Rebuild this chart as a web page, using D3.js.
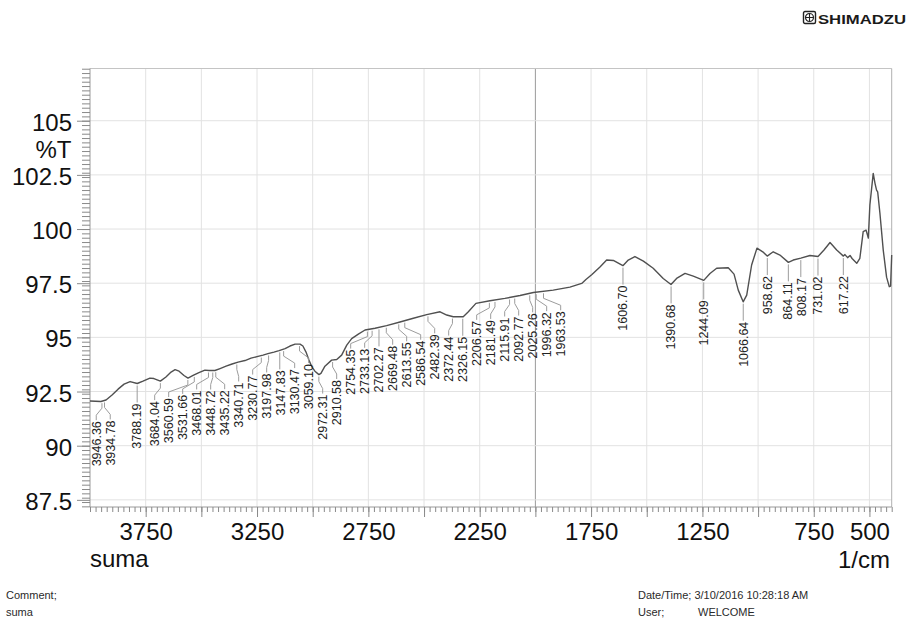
<!DOCTYPE html>
<html>
<head>
<meta charset="utf-8">
<script src="https://cdn.jsdelivr.net/npm/d3@7"></script>
<style>
  html, body { margin: 0; padding: 0; background: #fff; }
  svg { display: block; font-family: "Liberation Sans", Arial, sans-serif; }
</style>
</head>
<body>
<svg id="chart" width="912" height="621"></svg>
<script>
// FTIR spectrum of sample "suma": wavenumber (1/cm) and transmittance (%T)
const wavenumbers = [
  4000, 3951, 3928, 3901, 3874, 3847, 3820, 3788, 3762, 3731,
  3713, 3684, 3659, 3636, 3618, 3600, 3578, 3560, 3537, 3511,
  3484, 3466, 3439, 3416, 3389, 3362, 3335, 3304, 3277, 3250,
  3223, 3201, 3174, 3151, 3124, 3102, 3079, 3057, 3044, 3030,
  3017, 3003, 2990, 2972, 2963, 2945, 2915, 2892, 2870, 2847,
  2825, 2795, 2765, 2720, 2668, 2608, 2548, 2488, 2428, 2398,
  2369, 2324, 2301, 2267, 2204, 2137, 2069, 2009, 1920, 1845,
  1792, 1773, 1746, 1710, 1680, 1650, 1607, 1583, 1553, 1515,
  1471, 1426, 1391, 1366, 1328, 1291, 1244, 1216, 1186, 1134,
  1108, 1089, 1067, 1051, 1029, 1005, 979, 959, 932, 902,
  864, 842, 808, 767, 731, 704, 677, 647, 617, 610,
  598, 587, 578, 557, 543, 528, 515, 505, 498, 483,
  475, 468, 463, 453, 438, 423, 411, 405, 400
];
const transmittance = [
  92.06, 92.04, 92.11, 92.34, 92.61, 92.84, 92.96, 92.87, 92.98, 93.12,
  93.10, 92.98, 93.17, 93.40, 93.51, 93.44, 93.24, 93.12, 93.24, 93.37,
  93.49, 93.47, 93.47, 93.56, 93.67, 93.77, 93.86, 93.93, 94.04, 94.11,
  94.18, 94.25, 94.32, 94.39, 94.48, 94.60, 94.69, 94.69, 94.60, 94.32,
  93.95, 93.63, 93.44, 93.28, 93.34, 93.67, 93.95, 93.98, 94.18, 94.64,
  94.94, 95.15, 95.34, 95.42, 95.54, 95.71, 95.88, 96.05, 96.18, 96.03,
  95.95, 95.95, 96.18, 96.57, 96.69, 96.80, 96.93, 97.07, 97.18, 97.32,
  97.49, 97.67, 97.90, 98.25, 98.57, 98.55, 98.31, 98.57, 98.73, 98.52,
  98.19, 97.72, 97.44, 97.72, 97.95, 97.83, 97.63, 97.95, 98.19, 98.21,
  97.92, 97.18, 96.64, 96.95, 98.34, 99.12, 98.95, 98.75, 98.95, 98.80,
  98.46, 98.57, 98.66, 98.78, 98.73, 99.03, 99.38, 99.03, 98.75, 98.82,
  98.68, 98.78, 98.64, 98.42, 98.65, 99.88, 99.95, 99.58, 101.11, 102.57,
  102.11, 101.80, 101.72, 100.74, 99.03, 97.78, 97.34, 97.37, 98.80
];

// Picked peaks (1/cm)
const peakWavenumbers = [
  3946.36, 3934.78, 3788.19, 3684.04, 3560.59, 3531.66, 3468.01, 3448.72,
  3435.22, 3340.71, 3230.77, 3197.98, 3147.83, 3130.47, 3059.10, 2972.31,
  2910.58, 2754.35, 2733.13, 2702.27, 2669.48, 2613.55, 2586.54, 2482.39,
  2372.44, 2326.15, 2206.57, 2181.49, 2115.91, 2092.77, 2025.26, 1996.32,
  1963.53, 1606.70, 1390.68, 1244.09, 1066.64, 958.62, 864.11, 808.17,
  731.02, 617.22
];

// Axis settings
const xDomain = [4000, 400];
const yDomain = [87.17, 107.41];
const xTickLabels = [3750, 3250, 2750, 2250, 1750, 1250, 750, 500];
const yTickLabels = [87.5, 90, 92.5, 95, 97.5, 100, 102.5, 105];

const svg = d3.select("#chart");
const plotLeft = 90, plotRight = 891.7, plotTop = 68.5, plotBottom = 507;

const x = d3.scaleLinear().domain(xDomain).range([plotLeft, plotRight]);
const y = d3.scaleLinear().domain(yDomain).range([plotBottom, plotTop]);

// ---- grid ----
const grid = svg.append("g");
const xGrid = d3.range(3750, 400, -250);
grid.selectAll("line.vx").data(xGrid).join("line")
  .attr("x1", d => x(d)).attr("x2", d => x(d))
  .attr("y1", plotTop).attr("y2", plotBottom)
  .attr("stroke", d => d === 2000 ? "#9a9a9a" : "#e2e2e2")
  .attr("stroke-width", 1);
grid.selectAll("line.hy").data(yTickLabels).join("line")
  .attr("x1", plotLeft).attr("x2", plotRight)
  .attr("y1", d => y(d)).attr("y2", d => y(d))
  .attr("stroke", "#e2e2e2").attr("stroke-width", 1);

// ---- frame ----
svg.append("line").attr("x1", plotLeft).attr("x2", plotRight).attr("y1", plotTop).attr("y2", plotTop)
  .attr("stroke", "#c4c4c4");
svg.append("line").attr("x1", plotRight).attr("x2", plotRight).attr("y1", plotTop).attr("y2", plotBottom)
  .attr("stroke", "#b0b0b0");
svg.append("line").attr("x1", plotLeft).attr("x2", plotLeft).attr("y1", plotTop).attr("y2", plotBottom)
  .attr("stroke", "#9a9a9a");
svg.append("line").attr("x1", plotLeft).attr("x2", plotRight).attr("y1", plotBottom).attr("y2", plotBottom)
  .attr("stroke", "#9a9a9a");

// ---- axes ----
function styleAxis(g) {
  g.select(".domain").remove();
  g.selectAll(".tick line").attr("stroke", "#8a8a8a");
  g.selectAll("text").attr("fill", "#111").style("font-size", "24px")
    .style("font-family", '"Liberation Sans", Arial, sans-serif');
}

const xMinor = d3.range(4000, 399, -25);
svg.append("g").attr("transform", `translate(0,${plotBottom})`)
  .call(d3.axisBottom(x).tickValues(xMinor).tickSize(5).tickFormat(""))
  .call(styleAxis);
svg.append("g").attr("transform", `translate(0,${plotBottom})`)
  .call(d3.axisBottom(x).tickValues(xGrid).tickSize(10).tickFormat(""))
  .call(styleAxis);
svg.append("g").attr("transform", `translate(0,${plotBottom})`)
  .call(d3.axisBottom(x).tickValues(xTickLabels).tickSize(0).tickPadding(16).tickFormat(d3.format("d")))
  .call(styleAxis);

const yMinor = d3.range(87.2, 107.41, 0.2);
svg.append("g").attr("transform", `translate(${plotLeft},0)`)
  .call(d3.axisLeft(y).tickValues(yMinor).tickSize(8).tickFormat(""))
  .call(styleAxis);
const yAxis = svg.append("g").attr("transform", `translate(${plotLeft},0)`)
  .call(d3.axisLeft(y).tickValues(yTickLabels).tickSize(13).tickPadding(5)
    .tickFormat(d => d3.format("")(d)))
  .call(styleAxis);
yAxis.selectAll("text").attr("dy", "0.4em");

// axis titles
svg.append("text").attr("x", 71.5).attr("y", 158).attr("text-anchor", "end")
  .style("font-size", "24px").attr("fill", "#111").text("%T");
svg.append("text").attr("x", plotLeft).attr("y", 567)
  .style("font-size", "24px").attr("fill", "#111").text("suma");
svg.append("text").attr("x", 890).attr("y", 568).attr("text-anchor", "end")
  .style("font-size", "24px").attr("fill", "#111").text("1/cm");

// ---- spectrum ----
const points = wavenumbers.map((w, i) => [w, transmittance[i]]);
svg.append("path")
  .datum(points)
  .attr("fill", "none")
  .attr("stroke", "#505050")
  .attr("stroke-width", 1.4)
  .attr("stroke-linejoin", "round")
  .attr("d", d3.line().x(d => x(d[0])).y(d => y(d[1])));

// ---- peak labels ----
// transmittance at an arbitrary wavenumber, interpolated along the trace
const asc = points.slice().sort((a, b) => a[0] - b[0]);
const bis = d3.bisector(d => d[0]).left;
function tAt(w) {
  const i = Math.max(1, Math.min(asc.length - 1, bis(asc, w)));
  const a = asc[i - 1], b = asc[i];
  return a[1] + (b[1] - a[1]) * (w - a[0]) / (b[0] - a[0]);
}

// spread crowded labels apart (pool-adjacent-violators with a minimum gap)
function spread(xs, gap) {
  const blocks = [];
  xs.forEach((v, i) => {
    blocks.push({ sum: v - gap * i, n: 1, start: i });
    while (blocks.length > 1) {
      const a = blocks[blocks.length - 2], c = blocks[blocks.length - 1];
      if (a.sum / a.n > c.sum / c.n) { a.sum += c.sum; a.n += c.n; blocks.pop(); }
      else break;
    }
  });
  const out = [];
  blocks.forEach(b => {
    const m = b.sum / b.n;
    for (let k = 0; k < b.n; k++) out.push(m + gap * (b.start + k));
  });
  return out;
}

const peakX = peakWavenumbers.map(w => x(w));
const labelX = spread(peakX, 14);
const peaks = peakWavenumbers.map((w, i) => {
  const cy = y(tAt(w));
  return { w, px: peakX[i], cy, lx: labelX[i], ly: cy + 20 };
});

const lab = svg.append("g");
lab.selectAll("path").data(peaks).join("path")
  .attr("fill", "none").attr("stroke", "#9c9c9c").attr("stroke-width", 1)
  .attr("d", d => {
    const p = d3.path();
    const y0 = d.cy + 2, y3 = d.ly - 1;
    p.moveTo(d.px, y0);
    if (Math.abs(d.px - d.lx) < 1) {
      p.lineTo(d.px, y3);
    } else {
      p.lineTo(d.px, y0 + 5);
      p.lineTo(d.lx, y3 - 5);
      p.lineTo(d.lx, y3);
    }
    return p.toString();
  });
lab.selectAll("text").data(peaks).join("text")
  .attr("transform", d => `translate(${d.lx + 4.3},${d.ly}) rotate(-90)`)
  .attr("text-anchor", "end")
  .style("font-size", "12.5px")
  .attr("fill", "#222")
  .text(d => d3.format(".2f")(d.w));

// ---- header / footer ----
const logo = svg.append("g").attr("transform", "translate(803,11)");
logo.append("rect").attr("x", 0.5).attr("y", 0.5).attr("width", 12).attr("height", 12)
  .attr("rx", 1.5).attr("fill", "none").attr("stroke", "#222").attr("stroke-width", 1.4);
logo.append("circle").attr("cx", 6.5).attr("cy", 6.5).attr("r", 4)
  .attr("fill", "none").attr("stroke", "#222").attr("stroke-width", 1.2);
logo.append("path").attr("d", "M6.5,2.5V10.5M2.5,6.5H10.5").attr("stroke", "#222").attr("stroke-width", 1.1);
svg.append("text").attr("x", 818).attr("y", 23.5)
  .attr("textLength", 88).attr("lengthAdjust", "spacingAndGlyphs")
  .style("font-size", "12.5px").style("font-weight", "bold").attr("fill", "#1a1a1a")
  .text("SHIMADZU");

const foot = svg.append("g").style("font-size", "11px").attr("fill", "#2a2a2a");
foot.append("text").attr("x", 6).attr("y", 599).text("Comment;");
foot.append("text").attr("x", 6).attr("y", 616).text("suma");
foot.append("text").attr("x", 638).attr("y", 599).text("Date/Time; 3/10/2016 10:28:18 AM");
foot.append("text").attr("x", 638).attr("y", 616).text("User;");
foot.append("text").attr("x", 698).attr("y", 616).text("WELCOME");
</script>
</body>
</html>
